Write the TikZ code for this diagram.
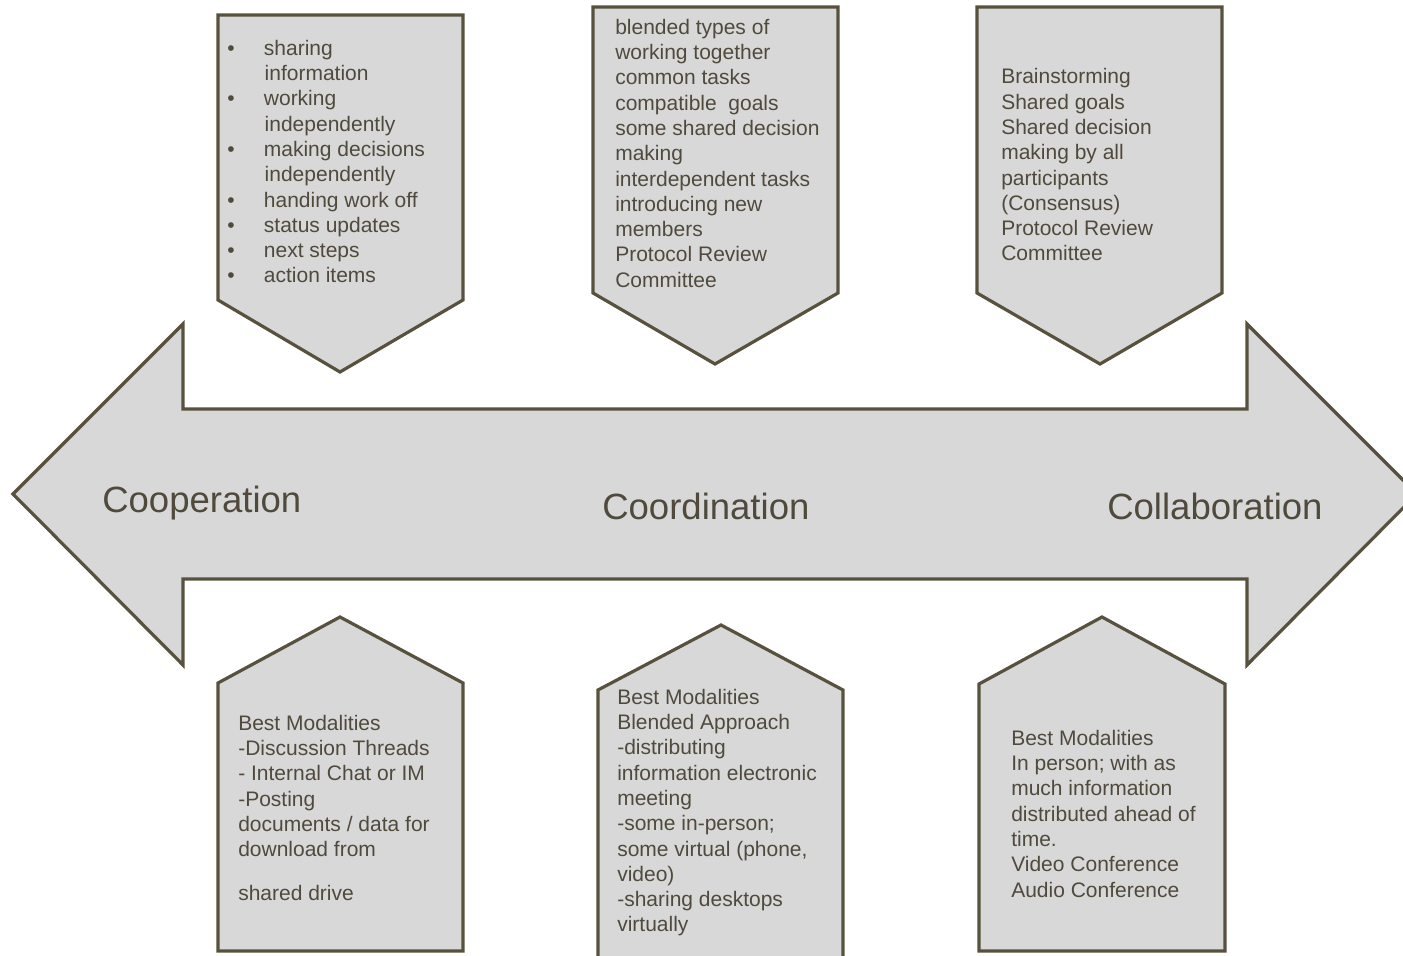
\documentclass[tikz,border=0pt]{standalone}
\usepackage{fontspec}
\setmainfont{Liberation Sans}
\usepackage{xcolor}
\usepackage{tikz}
\definecolor{panelfill}{RGB}{216, 216, 216}
\definecolor{edge}{RGB}{88, 81, 62}
\definecolor{ink}{RGB}{80, 74, 60}

\begin{document}
\begin{tikzpicture}[x=0.75pt, y=-0.75pt,
    panel/.style={fill=panelfill, draw=edge, line width=2.4pt, line join=miter},
    txt/.style={anchor=north west, inner sep=0pt, text=ink,
      font=\fontsize{15.75}{18.95}\selectfont},
    stage/.style={anchor=base west, inner sep=0pt, text=ink,
      font=\fontsize{27.4}{33}\selectfont}]
  \useasboundingbox (0,0) rectangle (1403,956);

  % Double arrow across the middle
  \draw[panel] (13,494) -- (183,324) -- (183,409) -- (1247,409) -- (1247,324)
    -- (1417,494) -- (1247,665) -- (1247,579) -- (183,579) -- (183,665) -- cycle;

  % Upper panels, pointing down
  \draw[panel] (218,15) -- (463,15) -- (463,300) -- (340,372) -- (218,300) -- cycle;
  \draw[panel] (593,7) -- (838,7) -- (838,293) -- (715,364) -- (593,293) -- cycle;
  \draw[panel] (977,7) -- (1222,7) -- (1222,293) -- (1100,364) -- (977,293) -- cycle;

  % Lower panels, pointing up
  \draw[panel] (218,951) -- (218,683) -- (340,617) -- (463,683) -- (463,951) -- cycle;
  \draw[panel] (598,975) -- (598,690) -- (721,625) -- (843,690) -- (843,975) -- cycle;
  \draw[panel] (979,951) -- (979,684) -- (1102,617) -- (1225,684) -- (1225,951) -- cycle;

  % Stage labels
  \node[stage] (coop) at (102,512) {Cooperation};
  \node[stage] (coord) at (602,519) {Coordination};
  \node[stage] (collab) at (1107,519) {Collaboration};

  % Panel texts
  \node[txt] (coopTop) at (227,37.5) {\begin{tabular}{@{}p{27.5pt}@{}l@{}}
    •& sharing\\
     & \kern0.6pt information\\
    •& working\\
     & \kern0.6pt independently\\
    •& making decisions\\
     & \kern0.6pt independently\\
    •& handing work off\\
    •& status updates\\
    •& next steps\\
    •& action items
  \end{tabular}};
  \node[txt] (coordTop) at (615,16.5) {\begin{tabular}{@{}l@{}}
    blended types of\\
    working together\\
    common tasks\\
    compatible\ \ goals\\
    some shared decision\\
    making\\
    interdependent tasks\\
    introducing new\\
    members\\
    Protocol Review\\
    Committee
  \end{tabular}};
  \node[txt] (collabTop) at (1001,66) {\begin{tabular}{@{}l@{}}
    Brainstorming\\
    Shared goals\\
    Shared decision\\
    making by all\\
    participants\\
    (Consensus)\\
    Protocol Review\\
    Committee
  \end{tabular}};
  \node[txt] (coopBot) at (238,712.5) {\begin{tabular}{@{}l@{}}
    Best Modalities\\
    -Discussion Threads\\
    - Internal Chat or IM\\
    -Posting\\
    documents / data for\\
    download from\\[13.5pt]
    shared drive
  \end{tabular}};
  \node[txt] (coordBot) at (617,686.5) {\begin{tabular}{@{}l@{}}
    Best Modalities\\
    Blended Approach\\
    -distributing\\
    information electronic\\
    meeting\\
    -some in-person;\\
    some virtual (phone,\\
    video)\\
    -sharing desktops\\
    virtually
  \end{tabular}};
  \node[txt] (collabBot) at (1011,727.5) {\begin{tabular}{@{}l@{}}
    Best Modalities\\
    In person; with as\\
    much information\\
    distributed ahead of\\
    time.\\
    Video Conference\\
    Audio Conference
  \end{tabular}};
\end{tikzpicture}
\end{document}
